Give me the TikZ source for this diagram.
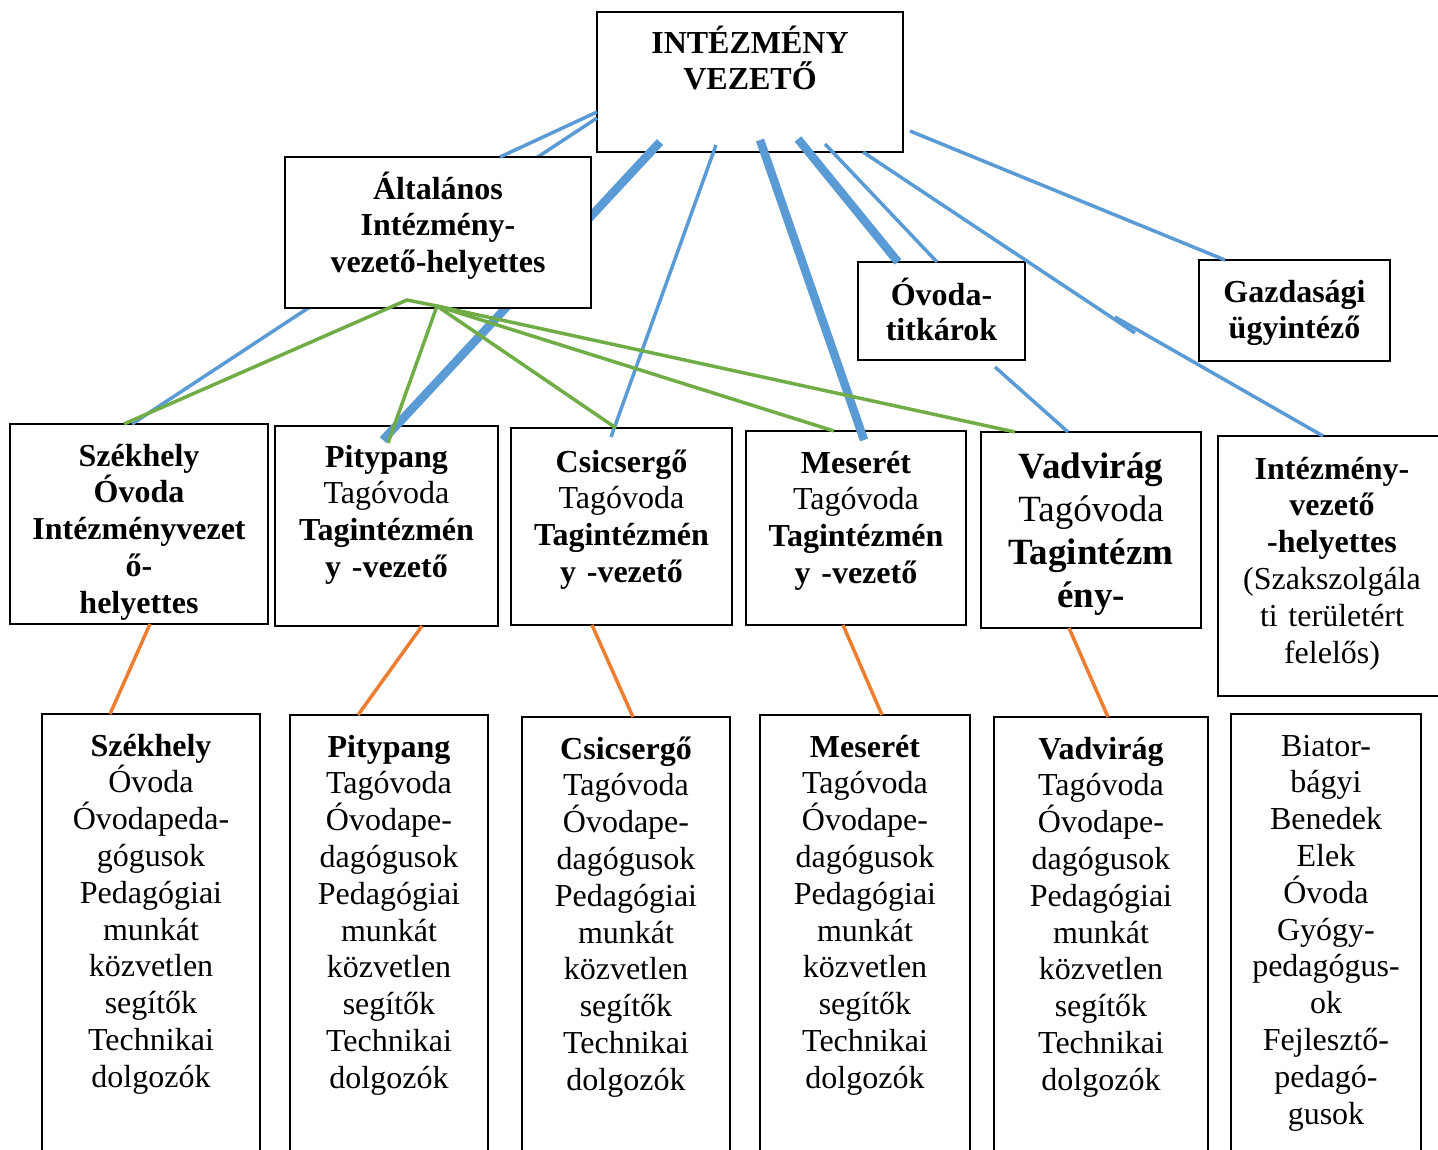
\documentclass[tikz,border=0pt]{standalone}
\usepackage{fontspec}
\setmainfont{Liberation Serif}
\usepackage{tikz}
\definecolor{lineblue}{RGB}{91,155,213}
\definecolor{linegreen}{RGB}{112,173,71}
\definecolor{lineorange}{RGB}{237,125,49}

\begin{document}
\begin{tikzpicture}[x=1pt, y=-1pt,
		box/.style={draw, line width=2pt, align=center, inner sep=0pt, outer sep=0pt, anchor=north, font=\fontsize{32}{36.8}\selectfont, text height=42pt},
		bigbox/.style={box, font=\fontsize{37}{43}\selectfont, text height=46pt},
		bluelink/.style={lineblue, line width=3.5pt},
		bluethick/.style={lineblue, line width=8.5pt},
		greenlink/.style={linegreen, line width=3.5pt},
		orangelink/.style={lineorange, line width=3.5pt}]
			\useasboundingbox (0,0) rectangle (1438,1149);
			
			\node[box, font=\fontsize{32}{36}\selectfont\bfseries, text width=306pt, text height=41pt, text depth=99pt] (top) at (750,12) {INTÉZMÉNY\\VEZETŐ};
			\node[box, font=\fontsize{32}{35.5}\selectfont\bfseries, text width=167pt, text height=43pt, text depth=55pt] (titk) at (941.5,262) {Óvoda-\\titkárok};
			\node[box, font=\fontsize{32}{36.8}\selectfont\bfseries, text width=191pt, text depth=59pt] (gazd) at (1294.5,260) {Gazdasági\\ügyintéző};
			
			\node[box, font=\fontsize{32}{36.8}\selectfont\bfseries, text width=258pt, text depth=158pt] (szek) at (139,424) {Székhely\\Óvoda\\Intézményvezet\\ő-\\helyettes};
			\node[box, text width=223pt, text height=41pt, text depth=159pt] (pity) at (386.5,426) {\textbf{Pitypang}\\Tagóvoda\\\textbf{Tagintézmén}\\\textbf{y -vezető}};
			\node[box, text width=221pt, text height=44pt, text depth=153pt] (csic) at (621.5,428) {\textbf{Csicsergő}\\Tagóvoda\\\textbf{Tagintézmén}\\\textbf{y -vezető}};
			\node[box, text width=220pt, text depth=152pt] (mese) at (856,431) {\textbf{Meserét}\\Tagóvoda\\\textbf{Tagintézmén}\\\textbf{y -vezető}};
			\node[bigbox, text width=220pt, text depth=150pt] (vadv) at (1091,432) {\textbf{Vadvirág}\\Tagóvoda\\\textbf{Tagintézm}\\\textbf{ény-}};
			\node[box, text width=228pt, text height=43pt, text depth=217pt] (ivh) at (1332,436) {\textbf{Intézmény-}\\\textbf{vezető}\\\textbf{-helyettes}\\(Szakszolgála\\ti területért\\felelős)};
			
			\foreach \name/\x/\y/\w/\first/\second/\peda/\gog in {r3a/151/714/218/Székhely/Óvoda/Óvodapeda-/gógusok, r3b/389/715/198/Pitypang/Tagóvoda/Óvodape-/dagógusok, r3c/626/717/208/Csicsergő/Tagóvoda/Óvodape-/dagógusok, r3d/865/715/210/Meserét/Tagóvoda/Óvodape-/dagógusok, r3e/1101/717/214/Vadvirág/Tagóvoda/Óvodape-/dagógusok}{
				\node[box, text width=\w pt, text depth=430pt] (\name) at (\x,\y) {\textbf{\first}\\\second\\\peda\\\gog\\Pedagógiai\\munkát\\közvetlen\\segítők\\Technikai\\dolgozók};
			}
			\node[box, text width=190pt, text depth=430pt] (r3f) at (1326,714) {Biator-\\bágyi\\Benedek\\Elek\\Óvoda\\Gyógy-\\pedagógus-\\ok\\Fejlesztő-\\pedagó-\\gusok};
			
			\coordinate (kinka) at (1135,333);
			\coordinate (kinkb) at (1115,317);
			\draw[bluelink] ([shift={(0,-34)}]top.south west) -- ([shift={(122,0)}]szek.north west);
			\draw[bluethick] ([shift={(63,-10)}]top.south west) -- ([shift={(108,14)}]pity.north west);
			\draw[bluelink] ([shift={(119,-7)}]top.south west) -- ([shift={(100,9)}]csic.north west);
			\draw[bluethick] ([shift={(163,-12)}]top.south west) -- ([shift={(118,9)}]mese.north west);
			\draw[bluethick] ([shift={(201,-13)}]top.south west) -- ([shift={(40,0)}]titk.north west);
			\draw[bluelink] ([shift={(228,-8)}]top.south west) -- ([shift={(79,0)}]titk.north west);
			\draw[bluelink] ([shift={(266,0)}]top.south west) -- (kinka);
			\draw[bluelink] (kinkb) -- ([shift={(105,0)}]ivh.north west);
			\draw[bluelink] ([shift={(7,-21)}]top.south east) -- ([shift={(26,0)}]gazd.north west);
			\draw[bluelink] ([shift={(137,7)}]titk.south west) -- ([shift={(87,0)}]vadv.north west);
			
			\node[box, fill=white, font=\fontsize{32}{36.8}\selectfont\bfseries, text width=306pt, text depth=109pt] (alt) at (438,157) {Általános\\Intézmény-\\vezető-helyettes};
			\draw[bluelink] ([shift={(0,-40)}]top.south west) -- ([shift={(215,0)}]alt.north west);
			
			\coordinate (ga) at ([shift={(152,-2)}]alt.south west);
			\coordinate (gb) at ([shift={(122,-8)}]alt.south west);
			\draw[greenlink] ([shift={(114,0)}]szek.north west) -- (gb) -- (ga);
			\draw[greenlink] (ga) -- ([shift={(113,17)}]pity.north west);
			\draw[greenlink] (ga) -- ([shift={(105,0)}]csic.north west);
			\draw[greenlink] (ga) -- ([shift={(88,0)}]mese.north west);
			\draw[greenlink] (ga) -- ([shift={(34,0)}]vadv.north west);
			
			\draw[orangelink] ([shift={(140,0)}]szek.south west) -- ([shift={(68,0)}]r3a.north west);
			\draw[orangelink] ([shift={(147,0)}]pity.south west) -- ([shift={(68,0)}]r3b.north west);
			\draw[orangelink] ([shift={(81,0)}]csic.south west) -- ([shift={(111,0)}]r3c.north west);
			\draw[orangelink] ([shift={(97,0)}]mese.south west) -- ([shift={(122,0)}]r3d.north west);
			\draw[orangelink] ([shift={(88,0)}]vadv.south west) -- ([shift={(114,0)}]r3e.north west);
		\end{tikzpicture}
\end{document}
